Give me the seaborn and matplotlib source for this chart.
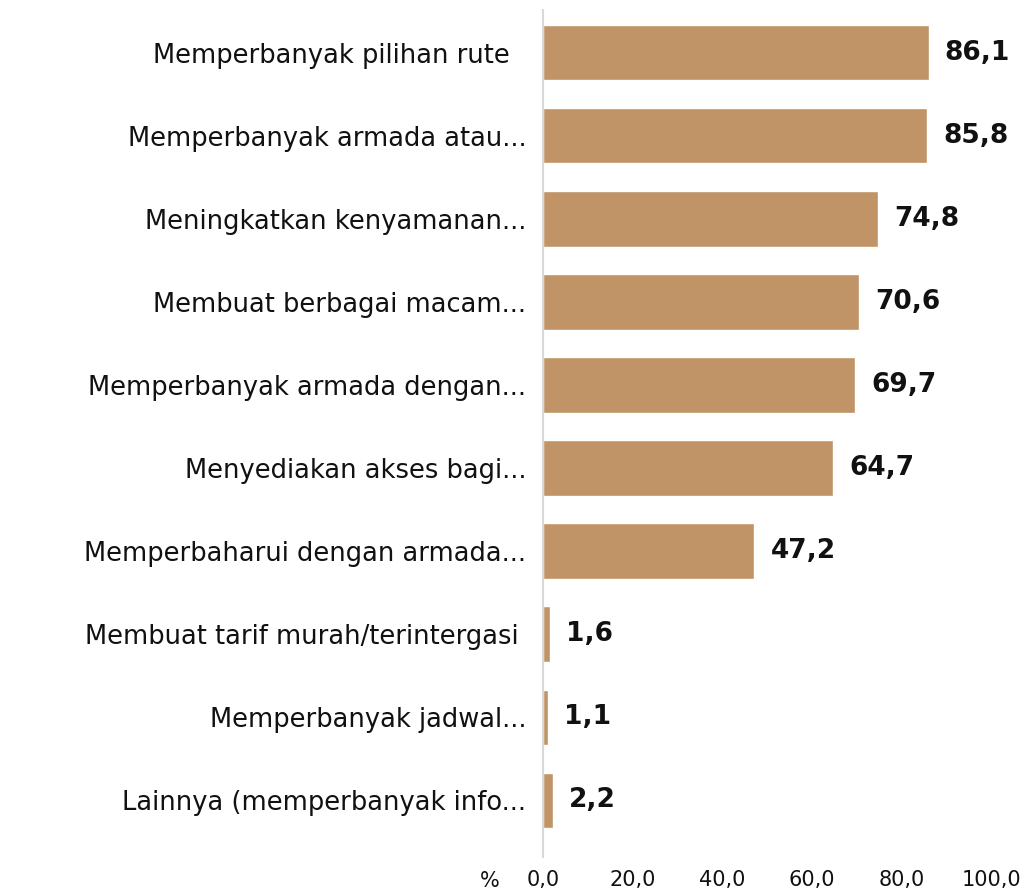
import matplotlib
matplotlib.use("Agg")
import matplotlib.pyplot as plt
import seaborn as sns
import pandas as pd

categories = [
    "Memperbanyak pilihan rute  ",
    "Memperbanyak armada atau...",
    "Meningkatkan kenyamanan...",
    "Membuat berbagai macam...",
    "Memperbanyak armada dengan...",
    "Menyediakan akses bagi...",
    "Memperbaharui dengan armada...",
    "Membuat tarif murah/terintergasi ",
    "Memperbanyak jadwal...",
    "Lainnya (memperbanyak info...",
]
values = [86.1, 85.8, 74.8, 70.6, 69.7, 64.7, 47.2, 1.6, 1.1, 2.2]
value_labels = ["86,1", "85,8", "74,8", "70,6", "69,7", "64,7", "47,2", "1,6", "1,1", "2,2"]
xticks = [0, 20, 40, 60, 80, 100]
xtick_labels = ["0,0", "20,0", "40,0", "60,0", "80,0", "100,0"]

sns.set_theme(style="white")
plt.rcParams["font.family"] = ["DejaVu Sans"]

df = pd.DataFrame({"cat": categories, "val": values})

fig = plt.figure(figsize=(10.24, 8.94), dpi=100)
ax = fig.add_axes([543/1024, 1 - 857/894, (991-543)/1024, (857-10)/894])
sns.barplot(data=df, y="cat", x="val", color="#C09466", width=0.67,
            saturation=1, ax=ax, orient="h")

ax.set_xlim(0, 100)
ax.set_ylim(9.5 + 15/83.2, -0.5 - 1/83.2)
for i, (v, lab) in enumerate(zip(values, value_labels)):
    ax.text(v + 3.6, i, lab, va="center", ha="left", fontsize=19,
            fontweight="bold", color="#111111")

ax.set_xticks(xticks)
ax.set_xticklabels(xtick_labels, fontsize=15, color="#111111")
ax.tick_params(axis="x", length=0, pad=9)
ax.tick_params(axis="y", length=0, pad=12, labelsize=18.5, labelcolor="#111111")
ax.set_xlabel("")
ax.set_ylabel("")
for s in ["top", "right", "bottom"]:
    ax.spines[s].set_visible(False)
ax.spines["left"].set_color("#d9d9d9")
ax.spines["left"].set_linewidth(1.5)
fig.text(490/1024, 1 - 881/894, "%", fontsize=15, ha="center", va="center",
         color="#111111")

fig.savefig("out.png", dpi=100, facecolor="white")
